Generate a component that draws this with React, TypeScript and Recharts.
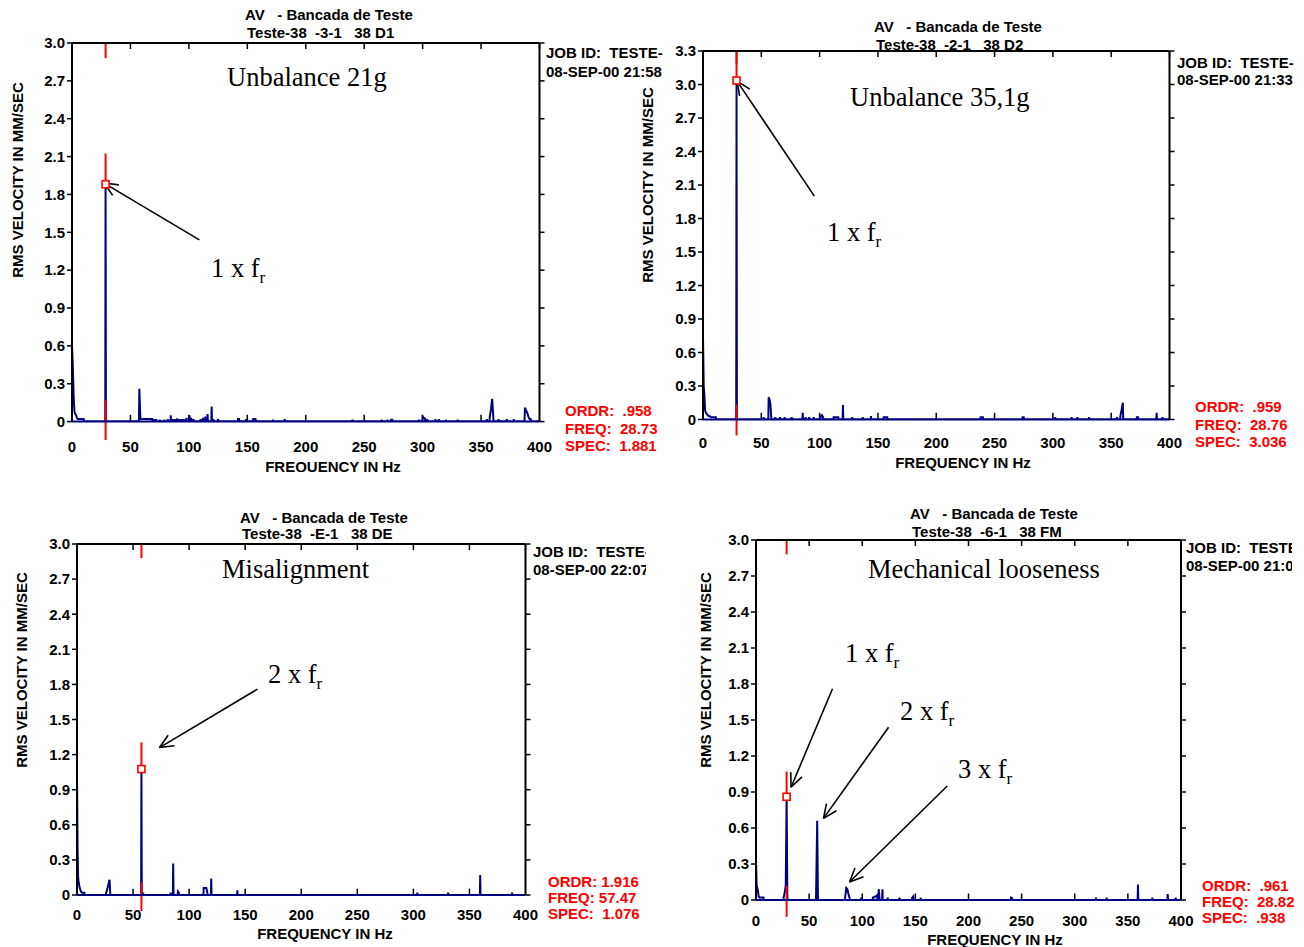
import React from 'react';
import { ComposedChart, Line, XAxis, YAxis, ReferenceLine, ReferenceDot } from 'recharts';

const SANS = '"Liberation Sans", Arial, sans-serif';
const SERIF = '"Liberation Serif", "Times New Roman", serif';
const NAVY = '#000080';
const RED = '#ff0000';

type Pt = [number, number];

// ---------- DATA ----------
const xTicks = [0, 50, 100, 150, 200, 250, 300, 350, 400];
const yTicks30 = [0, 0.3, 0.6, 0.9, 1.2, 1.5, 1.8, 2.1, 2.4, 2.7, 3.0];
const yTicks33 = [0, 0.3, 0.6, 0.9, 1.2, 1.5, 1.8, 2.1, 2.4, 2.7, 3.0, 3.3];

// Spectrum peaks [frequency Hz, RMS velocity mm/s]
const specUnbalance21: Pt[] = [
  [0, 0.6], [0.7, 0.45], [1.4, 0.2], [2.1, 0.08], [2.8, 0.06], [3.5, 0.05], [4.2, 0.03], [5, 0.02], [6, 0.02], [7, 0.02], [8, 0.02], [9, 0.02], [10, 0.02],
  [28.73, 1.881],
  [57.6, 0.26], [58.5, 0.02], [59.5, 0.02], [60.5, 0.02], [61.5, 0.02], [62.5, 0.02], [63.5, 0.02], [64.5, 0.02], [65.5, 0.02], [66.5, 0.02], [67.5, 0.02], [68.5, 0.02],
  [70, 0.02], [72, 0.02], [75, 0.015], [79, 0.015], [82, 0.02], [84.5, 0.05], [86, 0.02], [88, 0.02], [90, 0.025], [92, 0.02], [94, 0.02], [96, 0.02], [98, 0.03],
  [100.5, 0.05], [102, 0.03], [104, 0.02], [110, 0.02], [112, 0.03], [114, 0.04], [116, 0.06], [119.5, 0.12], [121, 0.02], [125, 0.02],
  [142, 0.02], [143, 0.02], [149, 0.02], [155, 0.02], [156, 0.02], [157, 0.02], [172, 0.015], [182, 0.02],
  [240, 0.015], [265, 0.015], [270, 0.015], [273, 0.015], [274, 0.015], [297, 0.015], [300, 0.04], [301, 0.03], [302, 0.025], [304, 0.02],
  [311, 0.02], [314, 0.02], [320, 0.015], [330, 0.015], [355, 0.02], [357.5, 0.04], [358.5, 0.1], [359.5, 0.18], [360.5, 0.03],
  [365, 0.02], [372, 0.02], [378, 0.02], [387.5, 0.11], [388.5, 0.09], [389.5, 0.07], [390.5, 0.04], [391.5, 0.02], [392.5, 0.02],
];

const specUnbalance35: Pt[] = [
  [0, 0.75], [0.6, 0.3], [1.2, 0.22], [1.8, 0.08], [2.5, 0.06], [3.2, 0.05], [4, 0.04], [5, 0.03], [6, 0.03], [7, 0.02], [8, 0.02], [9, 0.02], [10, 0.02], [11, 0.02],
  [28.76, 3.036],
  [52, 0.02], [56.3, 0.2], [57, 0.18], [57.8, 0.14], [58.5, 0.02], [62, 0.02], [66, 0.02], [70, 0.02], [76, 0.02], [85.5, 0.06], [88, 0.02], [91, 0.02], [95, 0.02],
  [101, 0.03], [102, 0.04], [103, 0.02], [112, 0.02], [113, 0.02], [114, 0.02], [115, 0.02], [116, 0.02], [120, 0.13], [128, 0.02], [137, 0.02], [144, 0.03],
  [155, 0.02], [156, 0.02], [157, 0.02], [158, 0.02], [238, 0.02], [239, 0.02], [240, 0.02], [274, 0.02], [275, 0.02], [302, 0.02],
  [316, 0.02], [321, 0.02], [331, 0.02], [355, 0.02], [358, 0.04], [359, 0.09], [360, 0.15], [372, 0.02], [373, 0.02], [389, 0.06], [394, 0.02],
];

const specMisalignment: Pt[] = [
  [0, 1.05], [0.5, 0.4], [1, 0.15], [1.6, 0.1], [2.2, 0.07], [2.8, 0.05], [3.5, 0.03], [4.5, 0.02], [5.5, 0.02], [6.5, 0.02],
  [26, 0.02], [27, 0.05], [28, 0.09], [29, 0.13], [29.6, 0.02],
  [57.47, 1.076], [59, 0.02],
  [83.5, 0.02], [85.8, 0.27], [90, 0.03], [90.8, 0.02],
  [113, 0.06], [113.8, 0.06], [114.6, 0.06], [115.4, 0.06], [116.2, 0.02], [119.7, 0.14],
  [143, 0.04], [303.5, 0.02], [331, 0.02], [359.6, 0.17], [388, 0.02],
];

const specLooseness: Pt[] = [
  [0, 0.33], [0.6, 0.12], [1.2, 0.1], [1.8, 0.08], [2.5, 0.03], [3.2, 0.02], [4, 0.02], [5, 0.02], [6, 0.02], [7, 0.02],
  [26, 0.02], [27, 0.06], [28, 0.12], [28.82, 0.86], [29.5, 0.03],
  [56.5, 0.02], [57.6, 0.66], [58.3, 0.02],
  [84, 0.03], [85, 0.1], [86, 0.09], [87, 0.05], [88, 0.02],
  [99, 0.02], [110, 0.02], [111, 0.02], [112, 0.03], [113, 0.03], [114, 0.04], [115.5, 0.09], [116.2, 0.02], [119, 0.09], [124, 0.02],
  [135, 0.02], [147, 0.02], [148, 0.03], [155, 0.02], [240, 0.02], [241, 0.015], [320, 0.02], [330, 0.02], [359.5, 0.13], [373, 0.02], [387.5, 0.05], [395, 0.02],
];

// Cursor (frequency, amplitude)
const cursorFreq = [28.73, 28.76, 57.47, 28.82];
const cursorAmp = [1.881, 3.036, 1.076, 0.86];
const cursorAboveTo = [2.125, 3.3, 1.305, 1.07];
const cursorBelow: Pt[] = [[0.17, -0.146], [0.134, -0.143], [0.105, -0.137], [0.12, -0.14]];

// Text
const titleLine1 = 'AV   - Bancada de Teste';
const titleLine2 = ['Teste-38  -3-1   38 D1', 'Teste-38  -2-1   38 D2', 'Teste-38  -E-1   38 DE', 'Teste-38  -6-1   38 FM'];
const jobId = 'JOB ID:  TESTE-38';
const dates = ['08-SEP-00 21:58', '08-SEP-00 21:33', '08-SEP-00 22:07', '08-SEP-00 21:04'];
const readouts = [
  ['ORDR:  .958', 'FREQ:  28.73', 'SPEC:  1.881'],
  ['ORDR:  .959', 'FREQ:  28.76', 'SPEC:  3.036'],
  ['ORDR: 1.916', 'FREQ: 57.47', 'SPEC:  1.076'],
  ['ORDR:  .961', 'FREQ:  28.82', 'SPEC:  .938'],
];
const faultNames = ['Unbalance 21g', 'Unbalance 35,1g', 'Misalignment', 'Mechanical looseness'];
const xLabel = 'FREQUENCY IN Hz';
const yLabel = 'RMS VELOCITY IN MM/SEC';

// Arrows: [tail freq, tail amp, head freq, head amp]
const arrows1: number[][] = [[109, 1.44, 27.4, 1.89]];
const arrows2: number[][] = [[95.5, 2.0, 29.2, 3.03]];
const arrows3: number[][] = [[161, 1.76, 73.6, 1.26]];
const arrows4: number[][] = [[72, 1.76, 33, 0.94], [124.8, 1.44, 63.5, 0.68], [180, 0.95, 88, 0.15]];

// ---------- HELPERS ----------
function buildLine(pk: Pt[]) {
  const out: { f: number; a: number }[] = [];
  let prev = -10;
  for (const [f, a] of pk) {
    if (f - prev > 1.2) {
      if (out.length) out.push({ f: prev + 0.3, a: 0 });
      out.push({ f: Math.max(0, f - 0.3), a: 0 });
    }
    out.push({ f, a });
    prev = f;
  }
  out.push({ f: Math.min(400, prev + 0.3), a: 0 });
  if (prev + 0.3 < 400) out.push({ f: 400, a: 0 });
  return out;
}

function ArrowShape(props: any) {
  const { x1, y1, x2, y2 } = props;
  const ang = Math.atan2(y2 - y1, x2 - x1);
  const L = 15;
  const sp = 0.42;
  const a1 = ang + Math.PI - sp;
  const a2 = ang + Math.PI + sp;
  return (
    <g>
      <line x1={x1} y1={y1} x2={x2} y2={y2} stroke="#000" strokeWidth={1.6} />
      <line x1={x2} y1={y2} x2={x2 + L * Math.cos(a1)} y2={y2 + L * Math.sin(a1)} stroke="#000" strokeWidth={1.6} />
      <line x1={x2} y1={y2} x2={x2 + L * Math.cos(a2)} y2={y2 + L * Math.sin(a2)} stroke="#000" strokeWidth={1.6} />
    </g>
  );
}

function MarkerShape(props: any) {
  const { cx, cy } = props;
  return <rect x={cx - 3.5} y={cy - 3.5} width={7} height={7} fill="#fff" stroke={RED} strokeWidth={1.6} />;
}

function EmptyTick() {
  return <g />;
}

interface TxtProps {
  x: number; y: number; children: React.ReactNode; size?: number; color?: string; family?: string;
  weight?: number; anchor?: 'start' | 'middle'; clipW?: number; clipH?: number;
}
function Txt({ x, y, children, size = 15, color = '#000', family = SANS, weight = 700, anchor = 'start', clipW, clipH }: TxtProps) {
  const lh = Math.round(size * 1.2);
  const style: React.CSSProperties = {
    position: 'absolute',
    top: y - lh / 2,
    left: anchor === 'middle' ? x - 300 : x,
    width: anchor === 'middle' ? 600 : clipW,
    height: clipH,
    overflow: clipW || clipH ? 'hidden' : 'visible',
    textAlign: anchor === 'middle' ? 'center' : 'left',
    whiteSpace: 'pre',
    lineHeight: lh + 'px',
    fontSize: size,
    fontFamily: family,
    fontWeight: weight,
    color,
  };
  return <div style={style}>{children}</div>;
}

function VTxt({ x, y, children }: { x: number; y: number; children: React.ReactNode }) {
  return (
    <div style={{
      position: 'absolute', left: x - 150, top: y - 9, width: 300, height: 18, lineHeight: '18px', textAlign: 'center',
      transform: 'rotate(-90deg)', fontFamily: SANS, fontWeight: 700, fontSize: 15, color: '#000', whiteSpace: 'pre',
    }}>{children}</div>
  );
}

function Harm({ x, y, n }: { x: number; y: number; n: number }) {
  return (
    <Txt x={x} y={y} size={26.5} family={SERIF} weight={400}>
      {n + ' x f'}<span style={{ fontSize: 17, position: 'relative', top: 6 }}>r</span>
    </Txt>
  );
}

interface PanelProps {
  l: number; t: number; r: number; b: number;
  yMax: number; yTicks: number[];
  peaks: Pt[]; idx: number; arrows: number[][]; xTickMargin: number;
}

function Panel({ l, t, r, b, yMax, yTicks, peaks, idx, arrows, xTickMargin }: PanelProps) {
  const ML = 60, MR = 30, MT = 20, MB = 40;
  const w = r - l + ML + MR;
  const h = b - t + MT + MB;
  const data = buildLine(peaks);
  const f = cursorFreq[idx];
  const a = cursorAmp[idx];
  const tickFont = { fill: '#000', fontSize: 15, fontWeight: 700, fontFamily: SANS };
  return (
    <div style={{ position: 'absolute', left: l - ML, top: t - MT, width: w, height: h }}>
      <ComposedChart width={w} height={h} data={data} margin={{ top: MT - 1, right: MR - 10, bottom: MB - 30, left: ML - 50 }}>
        <XAxis dataKey="f" type="number" domain={[0, 400]} ticks={xTicks} interval={0} allowDataOverflow
          axisLine={{ stroke: NAVY, strokeWidth: 2 }} tickLine={false} tickSize={0} tickMargin={xTickMargin} height={30}
          tick={tickFont} />
        <XAxis xAxisId="top" orientation="top" dataKey="f" type="number" domain={[0, 400]} ticks={xTicks} interval={0}
          allowDataOverflow height={1} mirror tick={<EmptyTick />} tickSize={6}
          axisLine={{ stroke: '#000', strokeWidth: 2 }} tickLine={{ stroke: '#000', strokeWidth: 1.5 }} />
        <YAxis type="number" domain={[0, yMax]} ticks={yTicks} interval={0} allowDataOverflow width={50}
          axisLine={{ stroke: '#000', strokeWidth: 2 }} tickLine={{ stroke: '#000', strokeWidth: 1.5 }} tickSize={5} tickMargin={2}
          tick={tickFont} tickFormatter={(v: number) => (v === 0 ? '0' : v.toFixed(1))} />
        <YAxis yAxisId="r" orientation="right" type="number" domain={[0, yMax]} ticks={yTicks} interval={0} allowDataOverflow width={10}
          axisLine={{ stroke: '#000', strokeWidth: 2 }} tickLine={{ stroke: '#000', strokeWidth: 1.5 }} tickSize={5} tick={<EmptyTick />} />
        {xTicks.slice(1, -1).map((tk) => (
          <ReferenceLine key={'bt' + tk} segment={[{ x: tk, y: 0 }, { x: tk, y: yMax * 0.018 }]} stroke="#000" strokeWidth={1.5} ifOverflow="visible" />
        ))}
        <Line type="linear" dataKey="a" stroke={NAVY} strokeWidth={2} dot={false} activeDot={false} isAnimationActive={false} />
        <ReferenceLine segment={[{ x: f, y: yMax }, { x: f, y: yMax - 0.12 }]} stroke={RED} strokeWidth={2} ifOverflow="visible" />
        <ReferenceLine segment={[{ x: f, y: a }, { x: f, y: cursorAboveTo[idx] }]} stroke={RED} strokeWidth={2} ifOverflow="visible" />
        <ReferenceLine segment={[{ x: f, y: cursorBelow[idx][0] }, { x: f, y: cursorBelow[idx][1] }]} stroke={RED} strokeWidth={2} ifOverflow="visible" />
        <ReferenceDot x={f} y={a} r={4} ifOverflow="visible" shape={(p: any) => <MarkerShape {...p} />} />
        {arrows.map((ar, i) => (
          <ReferenceLine key={'ar' + i} segment={[{ x: ar[0], y: ar[1] }, { x: ar[2], y: ar[3] }]} ifOverflow="visible"
            shape={(p: any) => <ArrowShape {...p} />} />
        ))}
      </ComposedChart>
    </div>
  );
}

export default function App() {
  return (
    <div style={{ position: 'absolute', left: 0, top: 0, width: 1304, height: 947, background: '#fff', overflow: 'hidden', fontFamily: SANS }}>
      {/* Panel 1 */}
      <Panel l={71.5} t={44} r={539} b={421.6} yMax={3.0} yTicks={yTicks30} peaks={specUnbalance21} idx={0} arrows={arrows1} xTickMargin={20} />
      <Txt x={245} y={15}>{titleLine1}</Txt>
      <Txt x={247} y={33}>{titleLine2[0]}</Txt>
      <Txt x={546} y={53} clipW={117}>{jobId}</Txt>
      <Txt x={546} y={72} clipW={117}>{dates[0]}</Txt>
      {readouts[0].map((s, i) => <Txt key={i} x={565} y={411 + i * 17.5} color={RED}>{s}</Txt>)}
      <div style={{ position: 'absolute', left: 0, top: 460, width: 660, height: 12, overflow: 'hidden' }}>
        <Txt x={333} y={7} anchor="middle">{xLabel}</Txt>
      </div>
      <VTxt x={18} y={180}>{yLabel}</VTxt>
      <Txt x={227} y={77} size={26.5} family={SERIF} weight={400}>{faultNames[0]}</Txt>
      <Harm x={211} y={268} n={1} />

      {/* Panel 2 */}
      <Panel l={702.5} t={51.5} r={1169} b={419} yMax={3.3} yTicks={yTicks33} peaks={specUnbalance35} idx={1} arrows={arrows2} xTickMargin={18} />
      <Txt x={874} y={27}>{titleLine1}</Txt>
      <Txt x={876} y={45}>{titleLine2[1]}</Txt>
      <Txt x={1177} y={63} clipW={117}>{jobId}</Txt>
      <Txt x={1177} y={80} clipW={120}>{dates[1]}</Txt>
      {readouts[1].map((s, i) => <Txt key={i} x={1195} y={407 + i * 17.5} color={RED}>{s}</Txt>)}
      <Txt x={963} y={463} anchor="middle">{xLabel}</Txt>
      <VTxt x={648} y={185}>{yLabel}</VTxt>
      <Txt x={850} y={97} size={26.5} family={SERIF} weight={400}>{faultNames[1]}</Txt>
      <Harm x={827} y={232} n={1} />

      {/* Panel 3 */}
      <Panel l={76.5} t={545} r={525} b={895} yMax={3.0} yTicks={yTicks30} peaks={specMisalignment} idx={2} arrows={arrows3} xTickMargin={14} />
      <Txt x={240} y={518}>{titleLine1}</Txt>
      <Txt x={242} y={534}>{titleLine2[2]}</Txt>
      <Txt x={533} y={552} clipW={113}>{jobId}</Txt>
      <Txt x={533} y={570} clipW={113}>{dates[2]}</Txt>
      {readouts[2].map((s, i) => <Txt key={i} x={548} y={882 + i * 16} color={RED}>{s}</Txt>)}
      <Txt x={325} y={934} anchor="middle">{xLabel}</Txt>
      <VTxt x={22} y={670}>{yLabel}</VTxt>
      <Txt x={222} y={569} size={26.5} family={SERIF} weight={400}>{faultNames[2]}</Txt>
      <Harm x={268} y={674} n={2} />

      {/* Panel 4 */}
      <Panel l={756} t={541} r={1181} b={900} yMax={3.0} yTicks={yTicks30} peaks={specLooseness} idx={3} arrows={arrows4} xTickMargin={15} />
      <Txt x={910} y={514}>{titleLine1}</Txt>
      <Txt x={912} y={532}>{titleLine2[3]}</Txt>
      <Txt x={1186} y={548} clipW={106}>{jobId}</Txt>
      <Txt x={1186} y={566} clipW={106}>{dates[3]}</Txt>
      {readouts[3].map((s, i) => <Txt key={i} x={1202} y={886 + i * 16} color={RED}>{s}</Txt>)}
      <Txt x={995} y={940} anchor="middle">{xLabel}</Txt>
      <VTxt x={706} y={670}>{yLabel}</VTxt>
      <Txt x={868} y={569} size={26.5} family={SERIF} weight={400}>{faultNames[3]}</Txt>
      <Harm x={845} y={653} n={1} />
      <Harm x={900} y={711} n={2} />
      <Harm x={958} y={769} n={3} />
    </div>
  );
}
